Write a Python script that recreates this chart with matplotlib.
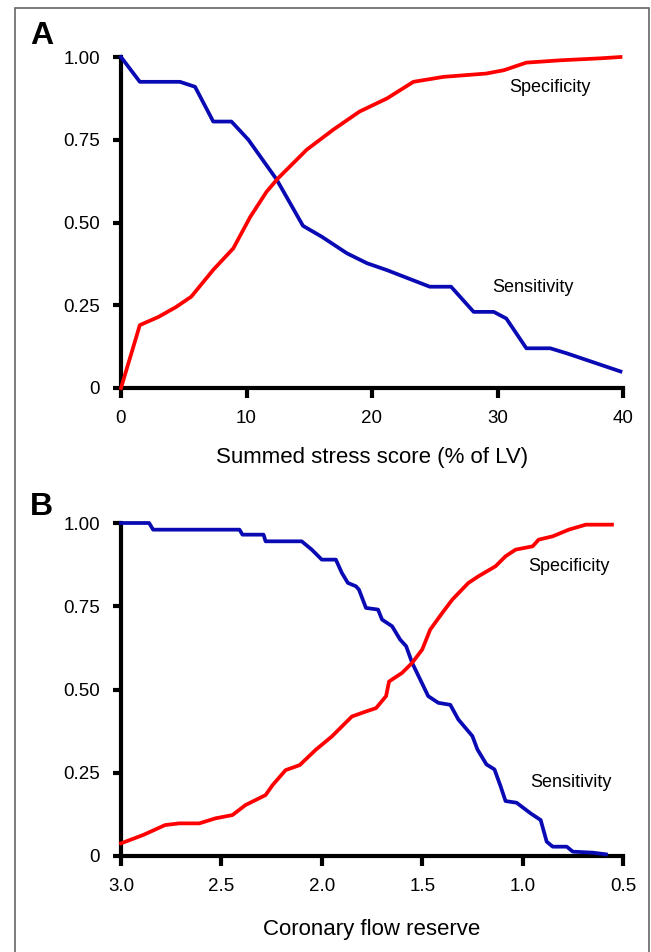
import matplotlib
matplotlib.use('Agg')
import matplotlib.pyplot as plt
from matplotlib.patches import Rectangle

plt.rcParams['font.family'] = ['Liberation Sans', 'DejaVu Sans']

# Panel A: summed stress score (% of LV)
sss_sens_x = [0, 1.5, 4.7, 5.9, 7.35, 8.8, 10.15, 12.4, 14.5, 16, 18, 19.6, 21.2,
              24.6, 26.3, 28.1, 29.7, 30.7, 32.3, 34.2, 35.5, 39.8]
sss_sens_y = [1.0, 0.925, 0.925, 0.91, 0.805, 0.805, 0.75, 0.63, 0.49, 0.457, 0.407,
              0.377, 0.356, 0.306, 0.306, 0.23, 0.23, 0.21, 0.12, 0.12, 0.105, 0.05]
sss_spec_x = [0, 1.5, 3, 4.4, 5.6, 7.35, 8.95, 10.3, 11.6, 12.5, 14.8, 16.9, 19,
              21.2, 23.3, 25.7, 29.1, 30.5, 32.3, 35, 38.2, 39.8]
sss_spec_y = [0.0, 0.19, 0.215, 0.245, 0.276, 0.357, 0.422, 0.517, 0.593, 0.633,
              0.72, 0.78, 0.835, 0.875, 0.925, 0.94, 0.95, 0.96, 0.983, 0.99, 0.996, 1.0]

# Panel B: coronary flow reserve (axis reversed)
cfr_sens_x = [3.0, 2.86, 2.84, 2.41, 2.395, 2.29, 2.28, 2.10, 2.05, 2.0, 1.93, 1.90,
              1.87, 1.83, 1.815, 1.78, 1.72, 1.70, 1.65, 1.61, 1.58, 1.55, 1.51, 1.47,
              1.42, 1.36, 1.32, 1.25, 1.225, 1.18, 1.14, 1.11, 1.085, 1.03, 0.96,
              0.91, 0.88, 0.85, 0.78, 0.75, 0.65, 0.585]
cfr_sens_y = [1.0, 1.0, 0.98, 0.98, 0.965, 0.965, 0.945, 0.945, 0.92, 0.89, 0.89,
              0.85, 0.82, 0.81, 0.80, 0.745, 0.74, 0.71, 0.69, 0.65, 0.63, 0.58, 0.53,
              0.48, 0.46, 0.454, 0.41, 0.36, 0.32, 0.275, 0.26, 0.21, 0.165, 0.16,
              0.128, 0.108, 0.043, 0.028, 0.028, 0.013, 0.01, 0.005]
cfr_spec_x = [3.0, 2.89, 2.78, 2.71, 2.61, 2.53, 2.445, 2.38, 2.28, 2.245, 2.18, 2.11,
              2.03, 1.95, 1.85, 1.78, 1.73, 1.68, 1.665, 1.60, 1.55, 1.50, 1.46, 1.40,
              1.35, 1.27, 1.22, 1.135, 1.085, 1.035, 0.95, 0.92, 0.85, 0.77, 0.685, 0.555]
cfr_spec_y = [0.038, 0.063, 0.093, 0.098, 0.098, 0.113, 0.123, 0.153, 0.183, 0.213,
              0.258, 0.273, 0.319, 0.359, 0.419, 0.434, 0.444, 0.48, 0.524, 0.55, 0.58,
              0.62, 0.68, 0.73, 0.77, 0.82, 0.84, 0.87, 0.90, 0.92, 0.93, 0.95, 0.96,
              0.98, 0.995, 0.995]

yticks = [0, 0.25, 0.5, 0.75, 1.0]
yticklabels = ['0', '0.25', '0.50', '0.75', '1.00']

BLUE = '#0a0ab4'
RED = '#ff0000'

fig = plt.figure(figsize=(6.51, 9.52), dpi=100)
fig.patches.append(Rectangle((15 / 651, -0.01), 634 / 651, 1 - 7.5 / 952 + 0.01,
                             transform=fig.transFigure, fill=False,
                             edgecolor='#666666', linewidth=1.2))

axA = fig.add_axes([121 / 651, 1 - 388 / 952, 502 / 651, 331 / 952])
axB = fig.add_axes([121 / 651, 1 - 856 / 952, 502 / 651, 333 / 952])


def style(ax):
    for s in ['top', 'right']:
        ax.spines[s].set_visible(False)
    for s in ['left', 'bottom']:
        ax.spines[s].set_linewidth(3)
        ax.spines[s].set_capstyle('projecting')
    ax.tick_params(axis='both', direction='out', width=3, length=6,
                   labelsize=13.5, color='black')
    ax.tick_params(axis='x', pad=9, length=7)
    ax.tick_params(axis='y', pad=9)
    ax.set_yticks(yticks)
    ax.set_yticklabels(yticklabels)
    ax.set_ylim(0, 1)


axA.plot(sss_sens_x, sss_sens_y, color=BLUE, lw=2.7, clip_on=False, zorder=3)
axA.plot(sss_spec_x, sss_spec_y, color=RED, lw=2.7, clip_on=False, zorder=3)
style(axA)
axA.set_xlim(0, 40)
axA.set_xticks([0, 10, 20, 30, 40])
axA.set_xlabel('Summed stress score (% of LV)', fontsize=16, labelpad=14)
axA.text(34.2, 0.909, 'Specificity', fontsize=13, ha='center', va='center')
axA.text(32.8, 0.305, 'Sensitivity', fontsize=13, ha='center', va='center')

axB.plot(cfr_sens_x, cfr_sens_y, color=BLUE, lw=2.7, clip_on=False, zorder=3)
axB.plot(cfr_spec_x, cfr_spec_y, color=RED, lw=2.7, clip_on=False, zorder=3)
style(axB)
axB.set_xlim(3.0, 0.5)
axB.set_xticks([3.0, 2.5, 2.0, 1.5, 1.0, 0.5])
axB.set_xticklabels(['3.0', '2.5', '2.0', '1.5', '1.0', '0.5'])
axB.set_xlabel('Coronary flow reserve', fontsize=16, labelpad=17)
axB.text(0.77, 0.87, 'Specificity', fontsize=13, ha='center', va='center')
axB.text(0.76, 0.22, 'Sensitivity', fontsize=13, ha='center', va='center')

fig.text(30 / 651, 1 - 36 / 952, 'A', fontsize=23, fontweight='bold', va='center', ha='left')
fig.text(30 / 651, 1 - 507 / 952, 'B', fontsize=23, fontweight='bold', va='center', ha='left')

fig.savefig('out.png', dpi=100)
